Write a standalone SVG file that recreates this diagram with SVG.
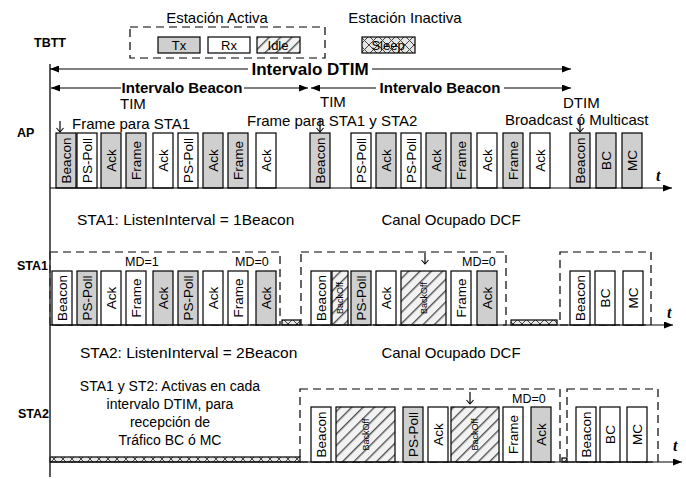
<svg xmlns="http://www.w3.org/2000/svg" width="686" height="479" viewBox="0 0 686 479">
<defs>
<style>
text{font-family:"Liberation Sans",Arial,sans-serif;fill:#000}
.bx{stroke:#000;stroke-width:1.2}
.g{fill:#cfcfcf}
.w{fill:#fff}
.h{fill:url(#hatch)}
.sl{fill:url(#cross)}
.bl{font-size:13.5px;text-anchor:middle;dominant-baseline:central}
.bo{font-size:9px;text-anchor:middle;dominant-baseline:central}
.lbl{font-size:12.5px;font-weight:bold}
.tx{font-size:15px}
.ln{stroke:#000;stroke-width:1.2;fill:none}
.ax{stroke:#333;stroke-width:1.6;fill:none}
.dash{stroke:#000;stroke-width:1.2;fill:none;stroke-dasharray:8 5}
.t{font-family:"Liberation Serif",serif;font-weight:bold;font-style:italic;font-size:16px}
.md{font-size:12.5px}
</style>
<pattern id="hatch" patternUnits="userSpaceOnUse" width="8" height="8" patternTransform="rotate(45)">
<rect width="8" height="8" fill="#f2f2f2"/>
<line x1="0" y1="0" x2="0" y2="8" stroke="#888" stroke-width="3.2"/>
<line x1="0" y1="0" x2="0" y2="8" stroke="#2a2a2a" stroke-width="1.2"/>
</pattern>
<pattern id="cross" patternUnits="userSpaceOnUse" width="9" height="9">
<rect width="9" height="9" fill="#e6e6e6"/>
<path d="M0,0 L9,9 M9,0 L0,9" stroke="#444" stroke-width="1"/>
</pattern>
<marker id="ah" viewBox="0 0 9 7" refX="9" refY="3.5" markerWidth="9" markerHeight="7" markerUnits="userSpaceOnUse" orient="auto-start-reverse">
<path d="M0,0 L9,3.5 L0,7 z" fill="#000"/>
</marker>
<marker id="oh" viewBox="0 0 8 8" refX="4" refY="7" markerWidth="8" markerHeight="8" markerUnits="userSpaceOnUse" orient="0">
<path d="M0.5,3 L4,7 L7.5,3" fill="none" stroke="#000" stroke-width="1.1"/>
</marker>
</defs>
<rect width="686" height="479" fill="#fff"/>

<!-- legend -->
<g id="legend">
<text class="tx" x="217" y="23" text-anchor="middle">Estación Activa</text>
<rect class="dash" x="130" y="27" width="195" height="31"/>
<rect class="bx g" x="158" y="37" width="42" height="16"/>
<text x="179" y="45" font-size="13" text-anchor="middle" dominant-baseline="central">Tx</text>
<rect class="bx w" x="208" y="37" width="42" height="16"/>
<text x="229" y="45" font-size="13" text-anchor="middle" dominant-baseline="central">Rx</text>
<rect class="bx h" x="257" y="37" width="43" height="16"/>
<text x="278" y="45" font-size="13" text-anchor="middle" dominant-baseline="central">Idle</text>
<text class="tx" x="405" y="23" text-anchor="middle">Estación Inactiva</text>
<rect class="bx sl" x="362" y="37" width="53" height="16"/>
<text x="388" y="45" font-size="13" text-anchor="middle" dominant-baseline="central">Sleep</text>
</g>

<!-- row labels -->
<g id="labels">
<text class="lbl" x="34" y="47">TBTT</text>
<text class="lbl" x="17" y="137">AP</text>
<text class="lbl" x="17" y="270">STA1</text>
<text class="lbl" x="18" y="418">STA2</text>
<text x="310" y="75" font-size="17" font-weight="bold" text-anchor="middle">Intervalo DTIM</text>
<text x="182" y="93" font-size="15" font-weight="bold" text-anchor="middle">Intervalo Beacon</text>
<text x="440" y="93" font-size="15" font-weight="bold" text-anchor="middle">Intervalo Beacon</text>
<text class="tx" x="120" y="109">TIM</text>
<text class="tx" x="320" y="107">TIM</text>
<text class="tx" x="563" y="108">DTIM</text>
<text class="tx" x="72" y="129">Frame para STA1</text>
<text class="tx" x="247" y="126">Frame para STA1 y STA2</text>
<text class="tx" x="505" y="125">Broadcast ó Multicast</text>
<text x="77" y="225" font-size="15.5">STA1: ListenInterval = 1Beacon</text>
<text class="tx" x="451" y="225" text-anchor="middle">Canal Ocupado DCF</text>
<text x="80" y="358" font-size="15.5">STA2: ListenInterval = 2Beacon</text>
<text class="tx" x="451" y="358" text-anchor="middle">Canal Ocupado DCF</text>
<text font-size="14" text-anchor="middle"><tspan x="170" y="391">STA1 y ST2: Activas en cada</tspan><tspan x="170" y="409">intervalo DTIM, para</tspan><tspan x="170" y="427">recepción de</tspan><tspan x="170" y="445">Tráfico BC ó MC</tspan></text>
<text class="md" x="125" y="266">MD=1</text>
<text class="md" x="235" y="266">MD=0</text>
<text class="md" x="462" y="266">MD=0</text>
<text class="md" x="512" y="403">MD=0</text>
<text class="t" x="656" y="181">t</text>
<text class="t" x="667" y="318">t</text>
<text class="t" x="673" y="451">t</text>
</g>

<!-- AP row -->
<g id="ap">
<rect class="bx g" x="56" y="133" width="20" height="55"/><text class="bl" transform="translate(66,160.5) rotate(-90)">Beacon</text>
<rect class="bx w" x="77" y="133" width="20" height="55"/><text class="bl" transform="translate(87,160.5) rotate(-90)">PS-Poll</text>
<rect class="bx g" x="101" y="133" width="20" height="55"/><text class="bl" transform="translate(111,160.5) rotate(-90)">Ack</text>
<rect class="bx g" x="126" y="133" width="20" height="55"/><text class="bl" transform="translate(136,160.5) rotate(-90)">Frame</text>
<rect class="bx w" x="153" y="133" width="20" height="55"/><text class="bl" transform="translate(163,160.5) rotate(-90)">Ack</text>
<rect class="bx w" x="178" y="133" width="20" height="55"/><text class="bl" transform="translate(188,160.5) rotate(-90)">PS-Poll</text>
<rect class="bx g" x="203" y="133" width="20" height="55"/><text class="bl" transform="translate(213,160.5) rotate(-90)">Ack</text>
<rect class="bx g" x="228" y="133" width="20" height="55"/><text class="bl" transform="translate(238,160.5) rotate(-90)">Frame</text>
<rect class="bx w" x="256" y="133" width="20" height="55"/><text class="bl" transform="translate(266,160.5) rotate(-90)">Ack</text>
<rect class="bx g" x="310" y="133" width="20" height="55"/><text class="bl" transform="translate(320,160.5) rotate(-90)">Beacon</text>
<rect class="bx w" x="351" y="133" width="20" height="55"/><text class="bl" transform="translate(361,160.5) rotate(-90)">PS-Poll</text>
<rect class="bx g" x="376" y="133" width="20" height="55"/><text class="bl" transform="translate(386,160.5) rotate(-90)">Ack</text>
<rect class="bx w" x="401" y="133" width="20" height="55"/><text class="bl" transform="translate(411,160.5) rotate(-90)">PS-Poll</text>
<rect class="bx g" x="426" y="133" width="20" height="55"/><text class="bl" transform="translate(436,160.5) rotate(-90)">Ack</text>
<rect class="bx g" x="451" y="133" width="20" height="55"/><text class="bl" transform="translate(461,160.5) rotate(-90)">Frame</text>
<rect class="bx w" x="477" y="133" width="20" height="55"/><text class="bl" transform="translate(487,160.5) rotate(-90)">Ack</text>
<rect class="bx g" x="503" y="133" width="20" height="55"/><text class="bl" transform="translate(513,160.5) rotate(-90)">Frame</text>
<rect class="bx w" x="530" y="133" width="20" height="55"/><text class="bl" transform="translate(540,160.5) rotate(-90)">Ack</text>
<rect class="bx g" x="570" y="133" width="20" height="55"/><text class="bl" transform="translate(580,160.5) rotate(-90)">Beacon</text>
<rect class="bx g" x="596" y="133" width="20" height="55"/><text class="bl" transform="translate(606,160.5) rotate(-90)">BC</text>
<rect class="bx g" x="622" y="133" width="20" height="55"/><text class="bl" transform="translate(632,160.5) rotate(-90)">MC</text>
</g>

<!-- STA1 row -->
<g id="sta1">
<rect class="dash" x="50" y="252" width="230" height="73"/>
<rect class="dash" x="301" y="252" width="205" height="73"/>
<rect class="dash" x="560" y="252" width="91" height="73"/>
<rect class="bx w" x="52" y="271" width="20" height="54"/><text class="bl" transform="translate(62,298) rotate(-90)">Beacon</text>
<rect class="bx g" x="77" y="271" width="20" height="54"/><text class="bl" transform="translate(87,298) rotate(-90)">PS-Poll</text>
<rect class="bx w" x="101" y="271" width="20" height="54"/><text class="bl" transform="translate(111,298) rotate(-90)">Ack</text>
<rect class="bx w" x="126" y="271" width="20" height="54"/><text class="bl" transform="translate(136,298) rotate(-90)">Frame</text>
<rect class="bx g" x="153" y="271" width="20" height="54"/><text class="bl" transform="translate(163,298) rotate(-90)">Ack</text>
<rect class="bx g" x="178" y="271" width="20" height="54"/><text class="bl" transform="translate(188,298) rotate(-90)">PS-Poll</text>
<rect class="bx w" x="203" y="271" width="20" height="54"/><text class="bl" transform="translate(213,298) rotate(-90)">Ack</text>
<rect class="bx w" x="228" y="271" width="20" height="54"/><text class="bl" transform="translate(238,298) rotate(-90)">Frame</text>
<rect class="bx g" x="256" y="271" width="20" height="54"/><text class="bl" transform="translate(266,298) rotate(-90)">Ack</text>
<rect class="bx sl" x="282" y="320" width="18" height="5"/>
<rect class="bx w" x="311" y="271" width="20" height="54"/><text class="bl" transform="translate(321,298) rotate(-90)">Beacon</text>
<rect class="bx h" x="332" y="271" width="16" height="54"/><text class="bo" transform="translate(340,298) rotate(-90)">BackOff</text>
<rect class="bx g" x="351" y="271" width="20" height="54"/><text class="bl" transform="translate(361,298) rotate(-90)">PS-Poll</text>
<rect class="bx w" x="376" y="271" width="20" height="54"/><text class="bl" transform="translate(386,298) rotate(-90)">Ack</text>
<rect class="bx h" x="401" y="271" width="45" height="54"/><text class="bo" transform="translate(423.5,298) rotate(-90)">BackOff</text>
<rect class="bx w" x="451" y="271" width="20" height="54"/><text class="bl" transform="translate(461,298) rotate(-90)">Frame</text>
<rect class="bx g" x="477" y="271" width="20" height="54"/><text class="bl" transform="translate(487,298) rotate(-90)">Ack</text>
<rect class="bx sl" x="511" y="320" width="46" height="5"/>
<rect class="bx w" x="570" y="271" width="20" height="54"/><text class="bl" transform="translate(580,298) rotate(-90)">Beacon</text>
<rect class="bx w" x="595" y="271" width="20" height="54"/><text class="bl" transform="translate(605,298) rotate(-90)">BC</text>
<rect class="bx w" x="623" y="271" width="20" height="54"/><text class="bl" transform="translate(633,298) rotate(-90)">MC</text>
</g>

<!-- STA2 row -->
<g id="sta2">
<rect class="dash" x="300" y="389" width="260" height="73"/>
<rect class="dash" x="567" y="389" width="91" height="73"/>
<rect class="bx sl" x="50" y="457" width="250" height="5"/>
<rect class="bx sl" x="562" y="458" width="5" height="4"/>
<rect class="bx w" x="311" y="407" width="20" height="55"/><text class="bl" transform="translate(321,434.5) rotate(-90)">Beacon</text>
<rect class="bx h" x="336" y="407" width="59" height="55"/><text class="bo" transform="translate(365.5,434.5) rotate(-90)">BackOff</text>
<rect class="bx g" x="403" y="407" width="20" height="55"/><text class="bl" transform="translate(413,434.5) rotate(-90)">PS-Poll</text>
<rect class="bx w" x="428" y="407" width="20" height="55"/><text class="bl" transform="translate(438,434.5) rotate(-90)">Ack</text>
<rect class="bx h" x="451" y="407" width="48" height="55"/><text class="bo" transform="translate(475,434.5) rotate(-90)">BackOff</text>
<rect class="bx w" x="503" y="407" width="20" height="55"/><text class="bl" transform="translate(513,434.5) rotate(-90)">Frame</text>
<rect class="bx g" x="531" y="407" width="20" height="55"/><text class="bl" transform="translate(541,434.5) rotate(-90)">Ack</text>
<rect class="bx w" x="576" y="407" width="20" height="55"/><text class="bl" transform="translate(586,434.5) rotate(-90)">Beacon</text>
<rect class="bx w" x="600" y="407" width="20" height="55"/><text class="bl" transform="translate(610,434.5) rotate(-90)">BC</text>
<rect class="bx w" x="627" y="407" width="20" height="55"/><text class="bl" transform="translate(637,434.5) rotate(-90)">MC</text>
</g>

<!-- connectors -->
<g id="connectors">
<line class="ax" x1="50" y1="64" x2="50" y2="477"/>
<line class="ln" x1="50" y1="69" x2="248" y2="69" marker-start="url(#ah)"/>
<line class="ln" x1="372" y1="69" x2="571" y2="69" marker-end="url(#ah)"/>
<line class="ln" x1="51" y1="88" x2="121" y2="88" marker-start="url(#ah)"/>
<line class="ln" x1="244" y1="88" x2="308" y2="88" marker-end="url(#ah)"/>
<line class="ln" x1="311" y1="88" x2="376" y2="88" marker-start="url(#ah)"/>
<line class="ln" x1="504" y1="88" x2="571" y2="88" marker-end="url(#ah)"/>
<line class="ln" x1="50" y1="188" x2="672" y2="188" marker-end="url(#ah)"/>
<line class="ln" x1="50" y1="325" x2="673" y2="325" marker-end="url(#ah)"/>
<line class="ln" x1="50" y1="462" x2="682" y2="462" marker-end="url(#ah)"/>
<line class="ln" x1="60" y1="121" x2="60" y2="132" marker-end="url(#oh)"/>
<line class="ln" x1="320" y1="119" x2="320" y2="132" marker-end="url(#oh)"/>
<line class="ln" x1="580" y1="119" x2="580" y2="132" marker-end="url(#oh)"/>
<line class="ln" x1="425" y1="253" x2="425" y2="264" marker-end="url(#oh)"/>
<line class="ln" x1="470" y1="392" x2="470" y2="404" marker-end="url(#oh)"/>
</g>
</svg>
